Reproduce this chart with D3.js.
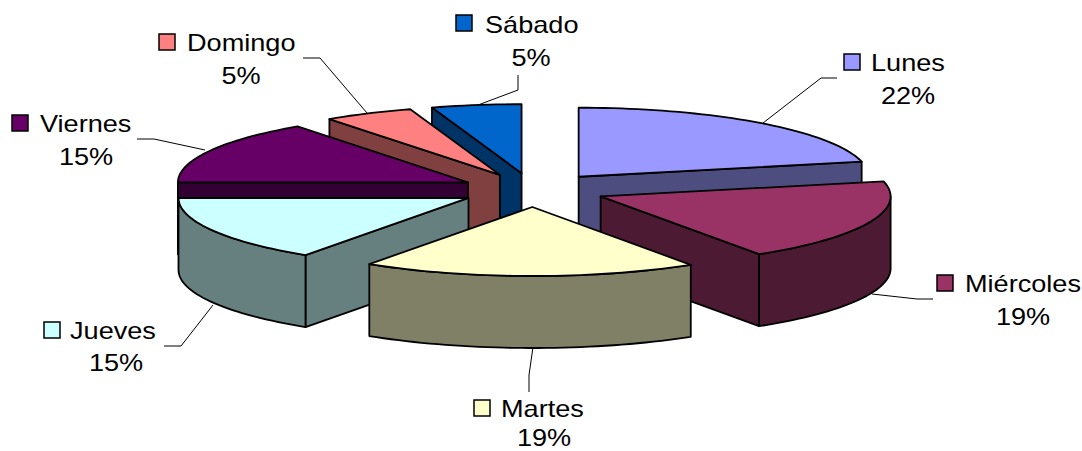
<!DOCTYPE html>
<html>
<head>
<meta charset="utf-8">
<script src="https://cdn.jsdelivr.net/npm/d3@7"></script>
<style>
  html, body { margin: 0; padding: 0; background: #fff; }
  svg { display: block; }
  text { font-family: "Liberation Sans", Arial, sans-serif; font-size: 24px; fill: #000; }
</style>
</head>
<body>
<svg id="chart" width="1082" height="451"></svg>
<script>
// Data, in the order the pie runs clockwise from 12 o'clock
const days = ["Lunes", "Miércoles", "Martes", "Jueves", "Viernes", "Domingo", "Sábado"];
const shares = [21.5, 19.3, 18.7, 15.49, 15.01, 5, 5];
const colors = ["#9999ff", "#993366", "#ffffcc", "#ccffff", "#660066", "#ff8080", "#0066cc"];

// Where each label sits and how its leader line runs
const keyPos = {
  "Lunes": [844, 54, 871, 71, 908, 104],
  "Miércoles": [937, 275, 965, 292, 1023, 325],
  "Martes": [474, 400, 501, 417, 544, 445.5],
  "Jueves": [44, 322, 70, 339, 116, 371],
  "Viernes": [12, 115, 40, 132, 86, 165],
  "Domingo": [159, 34, 187, 51, 241, 84],
  "Sábado": [456, 15, 485, 33, 531, 66]
};
const leaders = {
  "Lunes": [[763, 123], [821, 78], [837, 78]],
  "Miércoles": [[872, 294], [917, 299], [933, 299]],
  "Martes": [[533, 347], [529, 375], [529, 392]],
  "Jueves": [[213, 305], [181, 346], [164, 346]],
  "Viernes": [[205, 150], [154, 139], [137, 139]],
  "Domingo": [[367, 113], [320, 58], [303, 58]],
  "Sábado": [[478, 105], [518, 90], [518, 75]]
};

const cx = 533, cy = 190;
const rx = 290, ry = 69;
const depth = 72;
const explodeX = 73, explodeY = 17;

const svg = d3.select("#chart");

const arcs = d3.pie().sort(null).value(d => d)(shares);

// Projected point of a slice at angle a (radians clockwise from the top)
function project(d, a, r, drop) {
  const mid = (d.startAngle + d.endAngle) / 2;
  const ox = cx + explodeX * Math.sin(mid);
  const oy = cy - explodeY * Math.cos(mid);
  return [ox + r * rx * Math.sin(a), oy - r * ry * Math.cos(a) + drop];
}

function arcPoints(d, a0, a1, drop) {
  const steps = Math.max(2, Math.ceil((a1 - a0) / 0.03));
  return d3.range(steps + 1).map(i => project(d, a0 + (a1 - a0) * i / steps, 1, drop));
}

const line = d3.line();

function drawShape(g, pts, fill) {
  g.append("path")
    .attr("d", line(pts) + "Z")
    .attr("fill", fill)
    .attr("stroke", "#000")
    .attr("stroke-width", 1.8)
    .attr("stroke-linejoin", "round");
}

function radialWall(g, d, a, fill) {
  const apex = project(d, 0, 0, 0), rim = project(d, a, 1, 0);
  drawShape(g, [apex, rim, [rim[0], rim[1] + depth], [apex[0], apex[1] + depth]], fill);
}

// Paint from back to front so nearer slices cover farther ones
const paintOrder = ["Sábado", "Domingo", "Lunes", "Viernes", "Jueves", "Miércoles", "Martes"];

paintOrder.forEach(name => {
  const i = days.indexOf(name);
  const d = arcs[i];
  const top = d3.rgb(colors[i]);
  const side = d3.rgb(Math.round(top.r / 2), Math.round(top.g / 2), Math.round(top.b / 2)).formatHex();
  const g = svg.append("g").attr("class", "slice");

  // Only the cut faces that turn towards the viewer
  if (d.startAngle > Math.PI) radialWall(g, d, d.startAngle, side);
  if (d.endAngle < Math.PI) radialWall(g, d, d.endAngle, side);

  // Outer wall only on the front half of the rim
  const a0 = Math.max(d.startAngle, Math.PI / 2);
  const a1 = Math.min(d.endAngle, Math.PI * 1.5);
  if (a1 > a0) {
    const upper = arcPoints(d, a0, a1, 0);
    const lower = arcPoints(d, a0, a1, depth).reverse();
    drawShape(g, upper.concat(lower), side);
  }

  drawShape(g, [project(d, 0, 0, 0)].concat(arcPoints(d, d.startAngle, d.endAngle, 0)), colors[i]);
});

// Leader lines
svg.append("g").selectAll("path")
  .data(days)
  .enter()
  .append("path")
  .attr("d", d => line(leaders[d]))
  .attr("fill", "none")
  .attr("stroke", "#000")
  .attr("stroke-width", 1);

// Labels with a colour key
const labels = svg.append("g").selectAll("g")
  .data(days)
  .enter()
  .append("g");

labels.append("rect")
  .attr("x", d => keyPos[d][0])
  .attr("y", d => keyPos[d][1])
  .attr("width", 16)
  .attr("height", 16)
  .attr("fill", (d, i) => colors[i])
  .attr("stroke", "#000")
  .attr("stroke-width", 1.5);

labels.append("text")
  .attr("transform", d => `translate(${keyPos[d][2]},${keyPos[d][3]}) scale(1.13,1)`)
  .text(d => d);

labels.append("text")
  .attr("transform", d => `translate(${keyPos[d][4]},${keyPos[d][5]}) scale(1.13,1)`)
  .attr("text-anchor", "middle")
  .text((d, i) => Math.round(shares[i]) + "%");
</script>
</body>
</html>
